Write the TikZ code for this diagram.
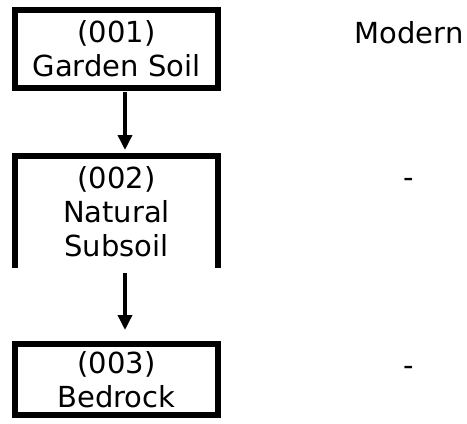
\documentclass[tikz,border=0pt]{standalone}
\usepackage{fontspec}
\setmainfont{DejaVu Sans}
\usetikzlibrary{arrows.meta}
\begin{document}
\begin{tikzpicture}[x=1pt,y=-1pt,
  every node/.style={font=\fontsize{29}{34}\selectfont, inner sep=0pt},
  unitbox/.style={rectangle, line width=6pt, outer sep=3pt,
                  minimum width=203pt, align=center},
  link/.style={line width=3.5pt, -{Triangle[length=15pt,width=14pt]}},
  period/.style={anchor=base}]
  \useasboundingbox (0,0) rectangle (467,424);

  % stratigraphic units
  \node[unitbox, draw, minimum height=78pt] (u1) at (116.5,49) {(001)\\Garden Soil};
  \node[unitbox, minimum height=112pt] (u2) at (116.5,212) {(002)\\Natural\\Subsoil};
  \node[unitbox, draw, minimum height=70.5pt] (u3) at (116.5,379.25) {(003)\\Bedrock};

  % open-bottomed frame for the subsoil unit
  \draw[line width=6pt, line join=miter]
    ([xshift=3pt,yshift=3pt]u2.south west) -- ([xshift=3pt,yshift=-3pt]u2.north west)
    -- ([xshift=-3pt,yshift=-3pt]u2.north east) -- ([xshift=-3pt,yshift=3pt]u2.south east);

  % sequence links
  \draw[link, shorten <=1pt, shorten >=3pt] ([xshift=8.5pt]u1.south) -- ([xshift=8.5pt]u2.north);
  \draw[link, shorten <=2pt, shorten >=11pt] ([xshift=8.5pt]u2.south) -- ([xshift=8.5pt]u3.north);

  % period labels
  \node[period] (p1) at (409,43) {Modern};
  \node[period] (p2) at (409,187) {-};
  \node[period] (p3) at (409,375) {-};
\end{tikzpicture}
\end{document}
